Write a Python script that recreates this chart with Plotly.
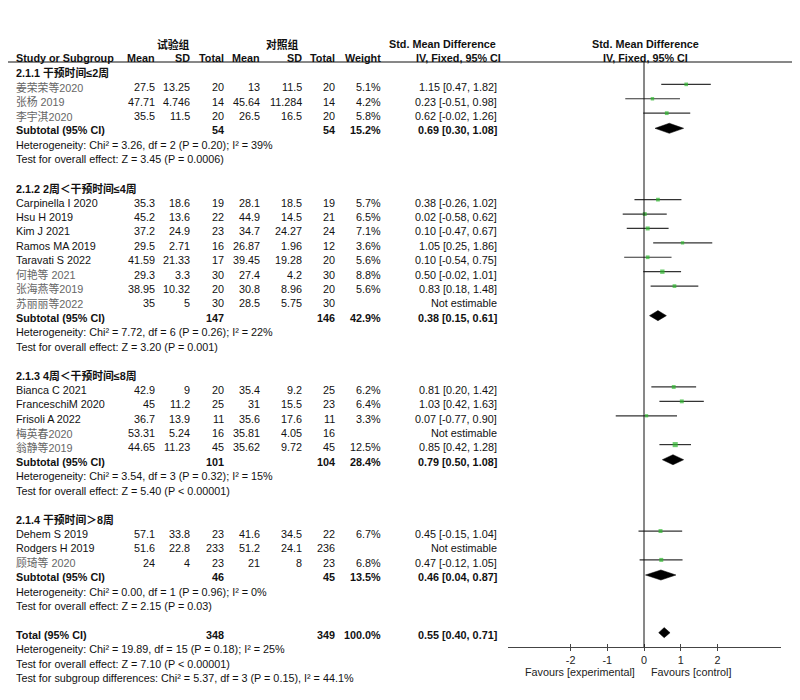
import plotly.graph_objects as go

# ---------------- data ----------------
group_titles = ["2.1.1 干预时间≤2周", "2.1.2 2周＜干预时间≤4周",
                "2.1.3 4周＜干预时间≤8周", "2.1.4 干预时间＞8周"]

study_group = [0, 0, 0,
               1, 1, 1, 1, 1, 1, 1, 1,
               2, 2, 2, 2, 2,
               3, 3, 3]
study_names = ["姜荣荣等2020", "张杨 2019", "李宇淇2020",
               "Carpinella I 2020", "Hsu H 2019", "Kim J 2021", "Ramos MA 2019",
               "Taravati S 2022", "何艳等 2021", "张海燕等2019", "苏丽丽等2022",
               "Bianca C 2021", "FranceschiM 2020", "Frisoli A 2022", "梅英春2020", "翁静等2019",
               "Dehem S 2019", "Rodgers H 2019", "顾琦等 2020"]
exp_mean = [27.5, 47.71, 35.5, 35.3, 45.2, 37.2, 29.5, 41.59, 29.3, 38.95, 35,
            42.9, 45, 36.7, 53.31, 44.65, 57.1, 51.6, 24]
exp_sd = [13.25, 4.746, 11.5, 18.6, 13.6, 24.9, 2.71, 21.33, 3.3, 10.32, 5,
          9, 11.2, 13.9, 5.24, 11.23, 33.8, 22.8, 4]
exp_n = [20, 14, 20, 19, 22, 23, 16, 17, 30, 20, 30, 20, 25, 11, 16, 45, 23, 233, 23]
ctl_mean = [13, 45.64, 26.5, 28.1, 44.9, 34.7, 26.87, 39.45, 27.4, 30.8, 28.5,
            35.4, 31, 35.6, 35.81, 35.62, 41.6, 51.2, 21]
ctl_sd = [11.5, 11.284, 16.5, 18.5, 14.5, 24.27, 1.96, 19.28, 4.2, 8.96, 5.75,
          9.2, 15.5, 17.6, 4.05, 9.72, 34.5, 24.1, 8]
ctl_n = [20, 14, 20, 19, 21, 24, 12, 20, 30, 20, 30, 25, 23, 11, 16, 45, 22, 236, 23]
weight = [5.1, 4.2, 5.8, 5.7, 6.5, 7.1, 3.6, 5.6, 8.8, 5.6, None,
          6.2, 6.4, 3.3, None, 12.5, 6.7, None, 6.8]
smd = [1.15, 0.23, 0.62, 0.38, 0.02, 0.10, 1.05, 0.10, 0.50, 0.83, None,
       0.81, 1.03, 0.07, None, 0.85, 0.45, None, 0.47]
ci_lo = [0.47, -0.51, -0.02, -0.26, -0.58, -0.47, 0.25, -0.54, -0.02, 0.18, None,
         0.20, 0.42, -0.77, None, 0.42, -0.15, None, -0.12]
ci_hi = [1.82, 0.98, 1.26, 1.02, 0.62, 0.67, 1.86, 0.75, 1.01, 1.48, None,
         1.42, 1.63, 0.90, None, 1.28, 1.04, None, 1.05]

sub_exp_n = [54, 147, 101, 46]
sub_ctl_n = [54, 146, 104, 45]
sub_weight = [15.2, 42.9, 28.4, 13.5]
sub_smd = [0.69, 0.38, 0.79, 0.46]
sub_lo = [0.30, 0.15, 0.50, 0.04]
sub_hi = [1.08, 0.61, 1.08, 0.87]
sub_het = ["Heterogeneity: Chi² = 3.26, df = 2 (P = 0.20); I² = 39%",
           "Heterogeneity: Chi² = 7.72, df = 6 (P = 0.26); I² = 22%",
           "Heterogeneity: Chi² = 3.54, df = 3 (P = 0.32); I² = 15%",
           "Heterogeneity: Chi² = 0.00, df = 1 (P = 0.96); I² = 0%"]
sub_test = ["Test for overall effect: Z = 3.45 (P = 0.0006)",
            "Test for overall effect: Z = 3.20 (P = 0.001)",
            "Test for overall effect: Z = 5.40 (P < 0.00001)",
            "Test for overall effect: Z = 2.15 (P = 0.03)"]

total_exp_n, total_ctl_n, total_weight = 348, 349, 100.0
total_smd, total_lo, total_hi = 0.55, 0.40, 0.71
total_het = "Heterogeneity: Chi² = 19.89, df = 15 (P = 0.18); I² = 25%"
total_test = "Test for overall effect: Z = 7.10 (P < 0.00001)"
subgroup_test = "Test for subgroup differences: Chi² = 5.37, df = 3 (P = 0.15), I² = 44.1%"

tick_vals = [-2, -1, 0, 1, 2]
tick_text = ["-2", "-1", "0", "1", "2"]
favours_left = "Favours [experimental]"
favours_right = "Favours [control]"

# ---------------- layout constants (target page pixels) ----------------
OFF = 8                      # default page margin of the html body
W, H = 800 - OFF, 700 - OFF  # figure size so it fits the window
ROW0_PX, ROW_H = 44 - OFF, 14.41
X0_PX, UNIT_PX = 644 - OFF, 36.7
AX_L_PX, AX_R_PX = 508 - OFF, 781 - OFF
AXIS_Y_PX = 647 - OFF
HEADER_LINE_PX = 62 - OFF
FAV_Y_PX = 672 - OFF
FS = 10.8
FONT = "Liberation Sans, Arial, Noto Sans CJK SC, sans-serif"
MARK_OFF = -0.2
DIA_OFF = -0.15
DIA_H = 0.35

col_name = 14 - OFF
col_right = {k: v - OFF for k, v in
             {"em": 157, "esd": 192, "en": 226, "cm": 262, "csd": 304, "cn": 337,
              "w": 383, "smd": 499}.items()}

annotations = []


def has_cjk(s):
    return any('\u4e00' <= ch <= '\u9fff' for ch in s)


def txt(s, xpx, r, anchor="left", bold=False, color="#111111"):
    if bold:
        s = "<b>" + s + "</b>"
    annotations.append(dict(text=s, x=xpx / W, xref="paper", y=r, yref="y",
                            xanchor=anchor, yanchor="middle", showarrow=False,
                            font=dict(size=FS, family=FONT, color=color)))


def fmt(v):
    return f"{v:g}"


def ci_text(m, lo, hi):
    return f"{m:.2f} [{lo:.2f}, {hi:.2f}]"


# headers
txt("试验组", 173 - OFF, 0, "center", True)
txt("对照组", 282 - OFF, 0, "center", True)
txt("Std. Mean Difference", 442 - OFF, 0, "center", True)
txt("Std. Mean Difference", 645 - OFF, 0, "center", True)
txt("Study or Subgroup", col_name, 1, "left", True)
for key, lab in [("em", "Mean"), ("esd", "SD"), ("en", "Total"), ("cm", "Mean"),
                 ("csd", "SD"), ("cn", "Total"), ("w", "Weight")]:
    txt(lab, col_right[key], 1, "right", True)
txt("IV, Fixed, 95% CI", 458 - OFF, 1, "center", True)
txt("IV, Fixed, 95% CI", 645 - OFF, 1, "center", True)

ci_x, ci_y = [], []
sq_x, sq_y, sq_s = [], [], []
diamonds = []

r = 2
for g, title in enumerate(group_titles):
    txt(title, col_name, r, "left", True)
    r += 1
    for i in range(len(study_names)):
        if study_group[i] != g:
            continue
        name = study_names[i]
        txt(name, col_name, r, "left", False, "#666666" if has_cjk(name) else "#111111")
        txt(fmt(exp_mean[i]), col_right["em"], r, "right")
        txt(fmt(exp_sd[i]), col_right["esd"], r, "right")
        txt(fmt(exp_n[i]), col_right["en"], r, "right")
        txt(fmt(ctl_mean[i]), col_right["cm"], r, "right")
        txt(fmt(ctl_sd[i]), col_right["csd"], r, "right")
        txt(fmt(ctl_n[i]), col_right["cn"], r, "right")
        if smd[i] is None:
            txt("Not estimable", col_right["smd"], r, "right")
        else:
            txt(f"{weight[i]:.1f}%", col_right["w"], r, "right")
            txt(ci_text(smd[i], ci_lo[i], ci_hi[i]), col_right["smd"], r, "right")
            ci_x += [ci_lo[i], ci_hi[i], None]
            ci_y += [r + MARK_OFF, r + MARK_OFF, None]
            sq_x.append(smd[i])
            sq_y.append(r + MARK_OFF)
            sq_s.append(2.6 + 0.2 * weight[i])
        r += 1
    txt("Subtotal (95% CI)", col_name, r, "left", True)
    txt(str(sub_exp_n[g]), col_right["en"], r, "right", True)
    txt(str(sub_ctl_n[g]), col_right["cn"], r, "right", True)
    txt(f"{sub_weight[g]:.1f}%", col_right["w"], r, "right", True)
    txt(ci_text(sub_smd[g], sub_lo[g], sub_hi[g]), col_right["smd"], r, "right", True)
    diamonds.append((sub_lo[g], sub_smd[g], sub_hi[g], r + DIA_OFF))
    txt(sub_het[g], col_name, r + 1, "left")
    txt(sub_test[g], col_name, r + 2, "left")
    r += 4

txt("Total (95% CI)", col_name, r, "left", True)
txt(str(total_exp_n), col_right["en"], r, "right", True)
txt(str(total_ctl_n), col_right["cn"], r, "right", True)
txt(f"{total_weight:.1f}%", col_right["w"], r, "right", True)
txt(ci_text(total_smd, total_lo, total_hi), col_right["smd"], r, "right", True)
diamonds.append((total_lo, total_smd, total_hi, r + DIA_OFF))
txt(total_het, col_name, r + 1, "left")
txt(total_test, col_name, r + 2, "left")
txt(subgroup_test, col_name, r + 3, "left")

fig = go.Figure()
fig.add_trace(go.Scatter(x=ci_x, y=ci_y, mode="lines",
                         line=dict(color="#333333", width=1.2),
                         hoverinfo="skip", showlegend=False))
fig.add_trace(go.Scatter(x=sq_x, y=sq_y, mode="markers",
                         marker=dict(symbol="square", size=sq_s, color="#2db82d",
                                     line=dict(width=0)),
                         showlegend=False))
for lo, m, hi, yc in diamonds:
    fig.add_trace(go.Scatter(x=[lo, m, hi, m, lo], y=[yc, yc - DIA_H, yc, yc + DIA_H, yc],
                             mode="lines", fill="toself", fillcolor="#000000",
                             line=dict(color="#000000", width=0.5),
                             hoverinfo="skip", showlegend=False))

x_range = [(AX_L_PX - X0_PX) / UNIT_PX, (AX_R_PX - X0_PX) / UNIT_PX]
axis_pos = 1 - AXIS_Y_PX / H
dom = [AX_L_PX / W, AX_R_PX / W]

fig.update_layout(
    width=W, height=H,
    margin=dict(l=0, r=0, t=0, b=0),
    paper_bgcolor="white", plot_bgcolor="white",
    showlegend=False,
    xaxis=dict(domain=dom, range=x_range, anchor="free", position=axis_pos,
               showline=True, linecolor="#444444", linewidth=1,
               tickvals=tick_vals, ticktext=tick_text, ticks="outside", ticklen=3,
               tickcolor="#444444",
               tickfont=dict(size=FS, family=FONT, color="#222222"),
               showgrid=False, zeroline=False, fixedrange=True),
    xaxis2=dict(domain=dom, range=x_range, anchor="free", position=axis_pos,
                overlaying="x", showline=False, tickvals=tick_vals,
                ticks="inside", ticklen=3, tickcolor="#444444",
                showticklabels=False, showgrid=False, zeroline=False, fixedrange=True),
    yaxis=dict(domain=[0, 1], range=[(H - ROW0_PX) / ROW_H, -ROW0_PX / ROW_H],
               visible=False, fixedrange=True),
    annotations=annotations,
    shapes=[
        dict(type="line", xref="paper", yref="paper", x0=0 / W, x1=(796 - OFF) / W,
             y0=1 - HEADER_LINE_PX / H, y1=1 - HEADER_LINE_PX / H,
             line=dict(color="#111111", width=1)),
        dict(type="line", xref="x", yref="paper", x0=0, x1=0,
             y0=axis_pos, y1=1 - HEADER_LINE_PX / H,
             line=dict(color="#111111", width=1)),
    ],
)
# invisible trace to activate the second x axis (inside ticks)
fig.add_trace(go.Scatter(x=[tick_vals[0]], y=[None], xaxis="x2", mode="markers",
                         showlegend=False, hoverinfo="skip"))

fig.add_annotation(text=favours_left, x=0, xref="x", xshift=-7, y=1 - FAV_Y_PX / H, yref="paper",
                   xanchor="right", yanchor="middle", showarrow=False,
                   font=dict(size=FS, family=FONT, color="#222222"))
fig.add_annotation(text=favours_right, x=0, xref="x", xshift=5, y=1 - FAV_Y_PX / H, yref="paper",
                   xanchor="left", yanchor="middle", showarrow=False,
                   font=dict(size=FS, family=FONT, color="#222222"))

fig.write_html("out.html")
